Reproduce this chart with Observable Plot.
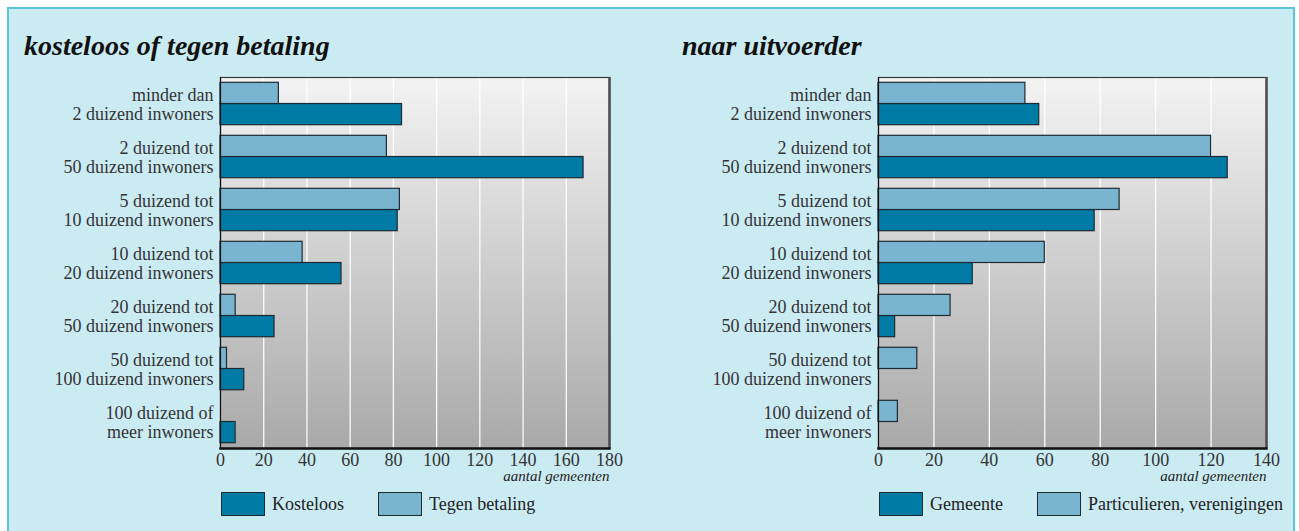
<!DOCTYPE html>
<html>
<head>
<meta charset="utf-8">
<script src="https://cdn.jsdelivr.net/npm/d3@7"></script>
<script src="https://cdn.jsdelivr.net/npm/@observablehq/plot@0.6"></script>
<style>
  html, body { margin: 0; padding: 0; width: 1299px; height: 531px; overflow: hidden; background: #ffffff; }
  #panel { position: absolute; left: 7px; top: 7px; width: 1288px; height: 540px; box-sizing: border-box;
           background: #cbebf3; border: 2px solid #5cc4dc; }
  .title { position: absolute; top: 32px; font-family: "Liberation Serif", serif; font-weight: bold; font-style: italic;
           font-size: 28px; line-height: 28px; color: #111; white-space: nowrap; }
  .chart { position: absolute; top: 0; }
  .chart svg { overflow: visible; }
  .legend { position: absolute; top: 492px; display: flex; align-items: center; font-family: "Liberation Serif", serif;
            font-size: 18px; color: #222; white-space: nowrap; }
  .legend .item { display: flex; align-items: center; margin-right: 34px; }
  .legend .sw { width: 42px; height: 22px; border: 1px solid #1d2a31; margin-right: 7px; }
</style>
</head>
<body>
<div id="panel"></div>
<div class="title" style="left:24px">kosteloos of tegen betaling</div>
<div class="title" style="left:682px">naar uitvoerder</div>
<div id="left" class="chart" style="left:0px"></div>
<div id="right" class="chart" style="left:650px"></div>
<div id="legendL" class="legend" style="left:221px"></div>
<div id="legendR" class="legend" style="left:879px"></div>
<script>
// ---- data ----
const categories = [
  "minder dan\n2 duizend inwoners",
  "2 duizend tot\n50 duizend inwoners",
  "5 duizend tot\n10 duizend inwoners",
  "10 duizend tot\n20 duizend inwoners",
  "20 duizend tot\n50 duizend inwoners",
  "50 duizend tot\n100 duizend inwoners",
  "100 duizend of\nmeer inwoners"
];
const kosteloos     = [84, 168, 82, 56, 25, 11, 7];
const tegenBetaling = [27, 77, 83, 38, 7, 3, 0];
const gemeente      = [58, 126, 78, 34, 6, 0, 0];
const particulieren = [53, 120, 87, 60, 26, 14, 7];
const ticksLeft  = [0, 20, 40, 60, 80, 100, 120, 140, 160, 180];
const ticksRight = [0, 20, 40, 60, 80, 100, 120, 140];
const seriesLeft  = ["Kosteloos", "Tegen betaling"];
const seriesRight = ["Gemeente", "Particulieren, verenigingen"];
const xLabel = "aantal gemeenten";

const DARK = "#007ba5", LIGHT = "#79b5d1", EDGE = "#1d2a31";

function chart({dark, light, ticks, width, marginLeft, marginRight, gid}) {
  const marginTop = 77, marginBottom = 40, height = 488;
  const plotH = height - marginTop - marginBottom;
  const pIn = 0.2, pOut = 0.1;
  const step = plotH / (categories.length - pIn + 2 * pOut);
  const half = step * (1 - pIn) / 2;
  const rows = (vals) => categories.map((c, i) => ({cat: c, value: vals[i]})).filter(d => d.value > 0);
  const xmax = ticks[ticks.length - 1];
  return Plot.plot({
    width, height, marginTop, marginBottom, marginLeft, marginRight,
    style: {fontFamily: "'Liberation Serif', serif", fontSize: "18px", color: "#222", background: "transparent", overflow: "visible"},
    x: {domain: [0, xmax], ticks, label: null},
    y: {domain: categories, paddingInner: pIn, paddingOuter: pOut, round: false, label: null},
    marks: [
      () => {
        const defs = d3.create("svg:defs");
        const g = defs.append("linearGradient").attr("id", gid).attr("x1", 0).attr("y1", 0).attr("x2", 0).attr("y2", 1);
        g.append("stop").attr("offset", "0%").attr("stop-color", "#f3f3f3");
        g.append("stop").attr("offset", "100%").attr("stop-color", "#a9a9a9");
        return defs.node();
      },
      Plot.frame({fill: `url(#${gid})`}),
      Plot.gridX({ticks, stroke: "#ffffff", strokeOpacity: 0.95, strokeWidth: 1.3}),
      Plot.frame({stroke: "#3a3a3a", strokeWidth: 1.2}),
      Plot.barX(rows(dark), {x: "value", y: "cat", fill: DARK, stroke: EDGE, strokeWidth: 1.2, insetTop: half}),
      Plot.barX(rows(light), {x: "value", y: "cat", fill: LIGHT, stroke: EDGE, strokeWidth: 1.2, insetBottom: half}),
      Plot.ruleX([xmax], {stroke: "#4a4a4a", strokeWidth: 2.5}),
      Plot.ruleX([0], {stroke: "#111", strokeWidth: 1.2}),
      Plot.frame({anchor: "bottom", stroke: "#111", strokeWidth: 2.5}),
      Plot.axisX({ticks, tickSize: 0, tickPadding: 5, fontSize: 18, fill: "#333"}),
      Plot.axisY({tickSize: 0, tickPadding: 7, fontSize: 18, lineHeight: 1.06, fill: "#333"}),
      Plot.text([xLabel], {text: d => d, frameAnchor: "bottom-right", textAnchor: "end", dy: 32,
                           fontStyle: "italic", fontSize: 15, fill: "#222"})
    ]
  });
}

document.getElementById("left").append(chart({dark: kosteloos, light: tegenBetaling, ticks: ticksLeft,
  width: 650, marginLeft: 220, marginRight: 41, gid: "gradL"}));
document.getElementById("right").append(chart({dark: gemeente, light: particulieren, ticks: ticksRight,
  width: 649, marginLeft: 228, marginRight: 33, gid: "gradR"}));

function legend(el, names) {
  const colors = [DARK, LIGHT];
  names.forEach((n, i) => {
    const item = document.createElement("div"); item.className = "item";
    const sw = document.createElement("div"); sw.className = "sw"; sw.style.background = colors[i];
    const t = document.createElement("span"); t.textContent = n;
    item.append(sw, t); el.append(item);
  });
}
legend(document.getElementById("legendL"), seriesLeft);
legend(document.getElementById("legendR"), seriesRight);
</script>
</body>
</html>
